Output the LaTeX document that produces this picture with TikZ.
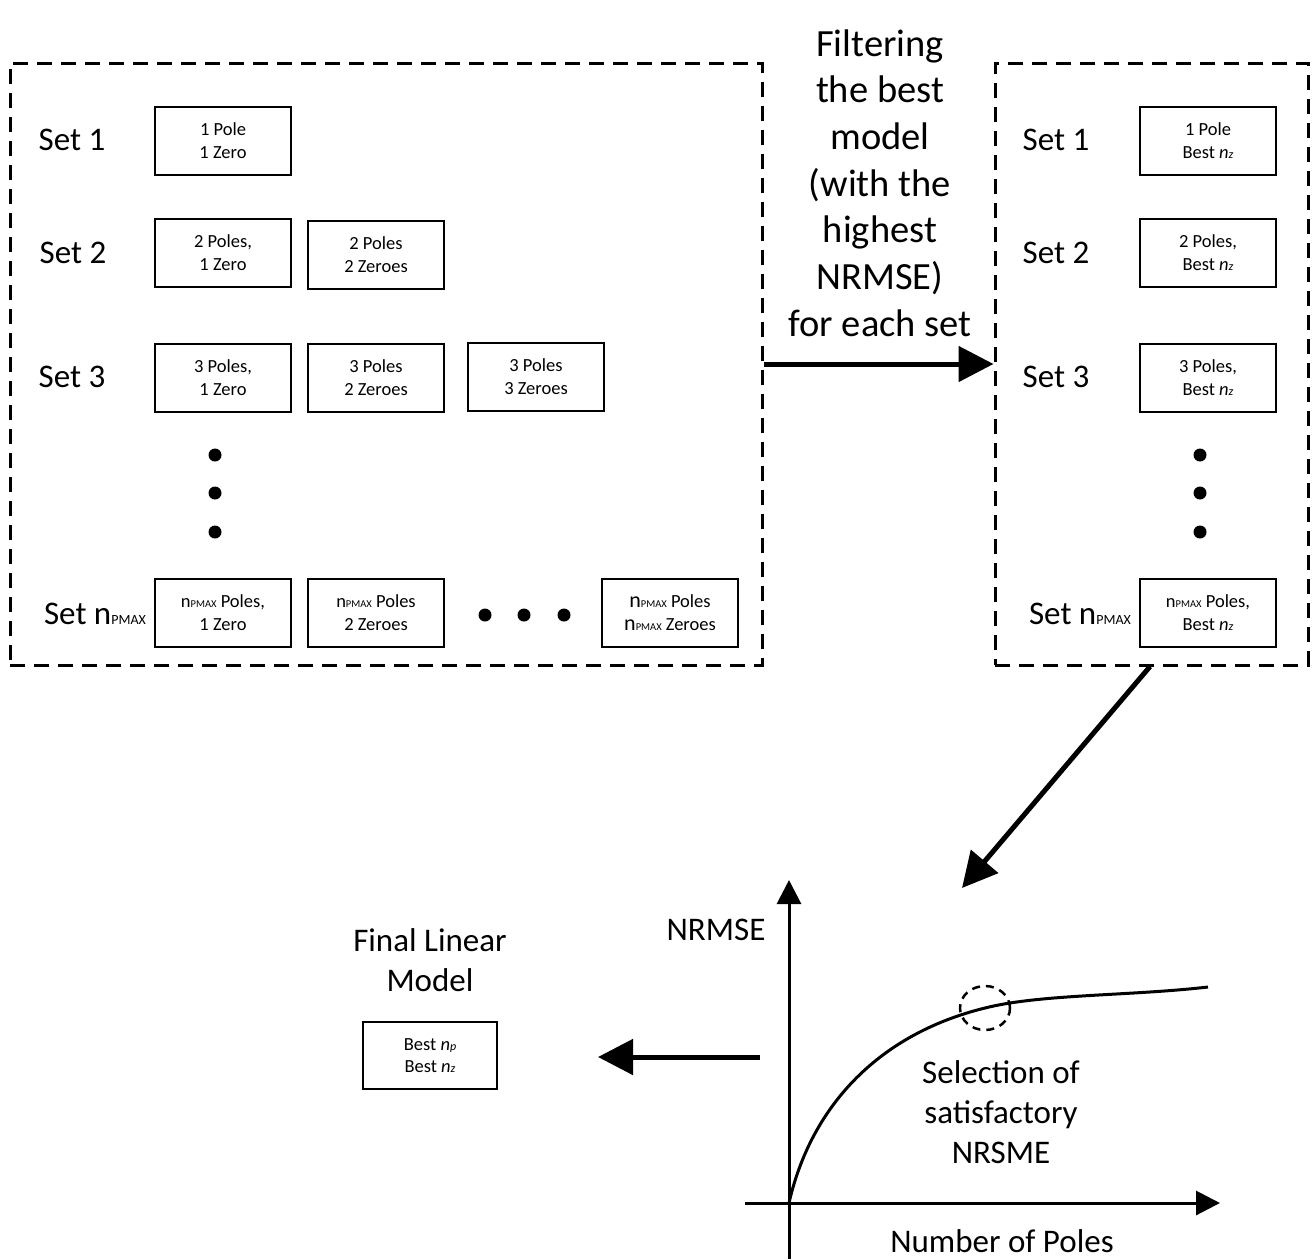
\documentclass[tikz,border=0pt]{standalone}
\usepackage{fontspec}
\setmainfont{Carlito}
\usetikzlibrary{arrows.meta}
\newcommand{\fsz}[2]{\fontsize{#1}{#2}\selectfont}
\newcommand{\PMAXsm}[1]{{\fontsize{#1}{#1}\selectfont PMAX}}
\newcommand{\nzit}{\textit{n}{\fontsize{12}{12}\selectfont\textit{z}}}
\newcommand{\npit}{\textit{n}{\fontsize{12}{12}\selectfont\textit{p}}}
\tikzset{
  model/.style={draw, line width=2.7pt, minimum width=136pt, minimum height=68pt,
    align=center, inner sep=0pt, font=\fsz{18.5}{23}},
  setlabel/.style={font=\fsz{33}{40}, inner sep=0pt},
  bigtext/.style={font=\fsz{33}{40}, align=center, inner sep=0pt},
  dashbox/.style={draw, line width=3pt, dash pattern=on 15pt off 9pt, inner sep=0pt},
  dotmark/.style={circle, fill=black, minimum size=13pt, inner sep=0pt},
  bigarrow/.style={line width=5pt, -{Triangle[length=35pt,width=35pt]}},
  axisarrow/.style={line width=3pt, -{Triangle[length=24pt,width=24pt]}},
}
\begin{document}
\begin{tikzpicture}[x=1pt, y=-1pt]
\useasboundingbox (0,0) rectangle (1314,1259);

% candidate model sets
\node[dashbox, minimum width=752pt, minimum height=602pt] (L) at (386,364) {};
\node[setlabel] (ls1) at (72,140) {Set 1};
\node[setlabel] (ls2) at (73,253) {Set 2};
\node[setlabel] (ls3) at (72,377) {Set 3};
\node[setlabel] (lsn) at (95,614) {Set n\PMAXsm{14}};

\node[model] (a11) at (223,141) {1 Pole\\1 Zero};
\node[model] (a21) at (223,253) {2 Poles,\\1 Zero};
\node[model] (a22) at (376,255) {2 Poles\\2 Zeroes};
\node[model] (a31) at (223,378) {3 Poles,\\1 Zero};
\node[model] (a32) at (376,378) {3 Poles\\2 Zeroes};
\node[model] (a33) at (536,377) {3 Poles\\3 Zeroes};
\node[model] (an1) at (223,613) {n\PMAXsm{10.5} Poles,\\1 Zero};
\node[model] (an2) at (376,613) {n\PMAXsm{10.5} Poles\\2 Zeroes};
\node[model] (ann) at (670,613) {{\fsz{22}{23}n}\PMAXsm{10.5} Poles\\{\fsz{22}{23}n}\PMAXsm{10.5} Zeroes};

\node[dotmark] (lv1) at (215,455) {};
\node[dotmark] (lv2) at (215,493) {};
\node[dotmark] (lv3) at (215,532) {};
\node[dotmark] (lh1) at (485,615) {};
\node[dotmark] (lh2) at (524,615) {};
\node[dotmark] (lh3) at (564,615) {};

% filtering step
\node[font=\fsz{38.5}{46.7}, align=center, inner sep=0pt] (filt) at (880,183)
  {Filtering\\the best\\model\\(with the\\highest\\NRMSE)\\for each set};

% best model of each set
\node[dashbox, minimum width=313pt, minimum height=602pt] (R) at (1151.5,364) {};
\node[setlabel] (rs1) at (1056,140) {Set 1};
\node[setlabel] (rs2) at (1056,253) {Set 2};
\node[setlabel] (rs3) at (1056,377) {Set 3};
\node[setlabel] (rsn) at (1080,614) {Set n\PMAXsm{14}};

\node[model] (b1) at (1208,141) {1 Pole\\Best \nzit};
\node[model] (b2) at (1208,253) {2 Poles,\\Best \nzit};
\node[model] (b3) at (1208,378) {3 Poles,\\Best \nzit};
\node[model] (bn) at (1208,613) {n\PMAXsm{10.5} Poles,\\Best \nzit};

\node[dotmark] (rv1) at (1200,455) {};
\node[dotmark] (rv2) at (1200,493) {};
\node[dotmark] (rv3) at (1200,532) {};

\draw[bigarrow] (L.east) -- (R.west);

% NRMSE versus number of poles
\coordinate (O) at (789,1203);
\coordinate (ybot) at (789,1259);
\coordinate (ytop) at (789,880);
\coordinate (xleft) at (745,1203);
\coordinate (xright) at (1220,1203);
\coordinate (pick) at (985,1008);
\coordinate (cend) at (1208,987);
\draw[axisarrow] (ybot) -- (ytop);
\draw[axisarrow] (xleft) -- (xright);
\draw[line width=3pt] (O) .. controls (810,1110) and (875,1035) .. (pick)
  .. controls (1040,994) and (1130,996) .. (cend);
\draw[line width=2.5pt, dash pattern=on 8pt off 6pt] (pick) ellipse [x radius=25pt, y radius=22pt];
\node[bigtext] (ylab) at (716,930) {NRMSE};
\node[bigtext] (xlab) at (1002,1241) {Number of Poles};
\node[bigtext] (sel) at (1001,1112) {Selection of\\satisfactory\\NRSME};

\coordinate (gtop) at (962,888);
\draw[bigarrow] ([xshift=-1.5pt]R.south) -- (gtop);

% final model
\node[bigtext] (ftitle) at (430,960) {Final Linear\\Model};
\node[model, minimum width=134pt, minimum height=67pt, font=\fsz{18.5}{22}] (final) at (430,1055.5)
  {Best \npit\\Best \nzit};
\coordinate (gstart) at (760,1057);
\coordinate (gend) at (598,1057);
\draw[bigarrow] (gstart) -- (gend);
\end{tikzpicture}
\end{document}
